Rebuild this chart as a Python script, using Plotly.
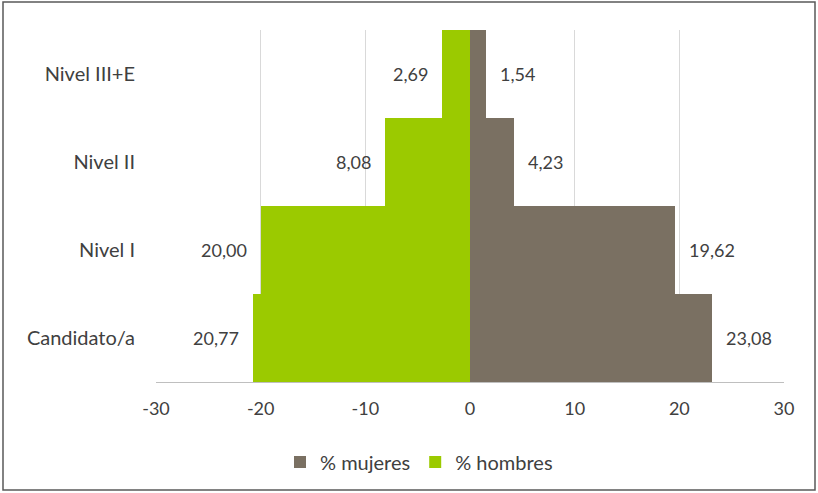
import plotly.graph_objects as go

categories = ["Candidato/a", "Nivel I", "Nivel II", "Nivel III+E"]
mujeres = [23.08, 19.62, 4.23, 1.54]
hombres = [20.77, 20.00, 8.08, 2.69]
x_ticks = [-30, -20, -10, 0, 10, 20, 30]

def fmt(v):
    return f"{v:.2f}".replace(".", ",")

font_family = "Lato, 'Open Sans', sans-serif"
txt_color = "#404040"
FS = 18

fig = go.Figure()
fig.add_trace(go.Bar(
    y=categories, x=mujeres, orientation="h", name="% mujeres",
    marker=dict(color="#7A7062", line=dict(width=0)),
))
fig.add_trace(go.Bar(
    y=categories, x=[-v for v in hombres], orientation="h", name="% hombres",
    marker=dict(color="#9BCA00", line=dict(width=0)),
))

annotations = []
for cat, v in zip(categories, mujeres):
    annotations.append(dict(x=v, y=cat, xref="x", yref="y", text=fmt(v),
                            showarrow=False, xanchor="left", xshift=12,
                            font=dict(size=FS, color=txt_color, family=font_family)))
for cat, v in zip(categories, hombres):
    annotations.append(dict(x=-v, y=cat, xref="x", yref="y", text=fmt(v),
                            showarrow=False, xanchor="right", xshift=-12,
                            font=dict(size=FS, color=txt_color, family=font_family)))

L, R, T, B = 156, 34, 30, 111
W, H = 818, 493
pw, ph = W - L - R, H - T - B

def px2x(px):
    return (px - L) / pw

def py2y(py):
    return (H - B - py) / ph

fig.update_layout(
    width=W, height=H,
    margin=dict(l=L, r=R, t=T, b=B, autoexpand=False),
    paper_bgcolor="white", plot_bgcolor="white",
    barmode="overlay", bargap=0,
    font=dict(family=font_family, size=FS, color=txt_color),
    showlegend=True,
    legend=dict(orientation="h", x=px2x(419), xanchor="center", y=py2y(462), yanchor="middle",
                font=dict(size=20, color=txt_color), traceorder="normal",
                itemwidth=30),
    xaxis=dict(range=[-30, 30], tickvals=x_ticks, ticktext=[str(v) for v in x_ticks],
               tickfont=dict(size=18),
               showgrid=True, gridcolor="#D9D9D9", gridwidth=1, zeroline=False,
               showline=True, linecolor="#BFBFBF", linewidth=1,
               ticks="", ticklabelstandoff=10, fixedrange=True, automargin=False),
    yaxis=dict(categoryorder="array", categoryarray=categories,
               tickfont=dict(size=20),
               showgrid=False, zeroline=False, showline=False, ticks="",
               ticklabelstandoff=20, fixedrange=True, automargin=False),
    annotations=annotations,
    shapes=[dict(type="rect", xref="paper", yref="paper",
                 x0=px2x(3), x1=px2x(815), y0=py2y(490), y1=py2y(2),
                 line=dict(color="#595959", width=1.5), fillcolor="rgba(0,0,0,0)",
                 layer="below")],
)

fig.write_html("out.html", config={"displayModeBar": False},
               post_script="document.body.style.margin='0';document.body.style.padding='0';")
